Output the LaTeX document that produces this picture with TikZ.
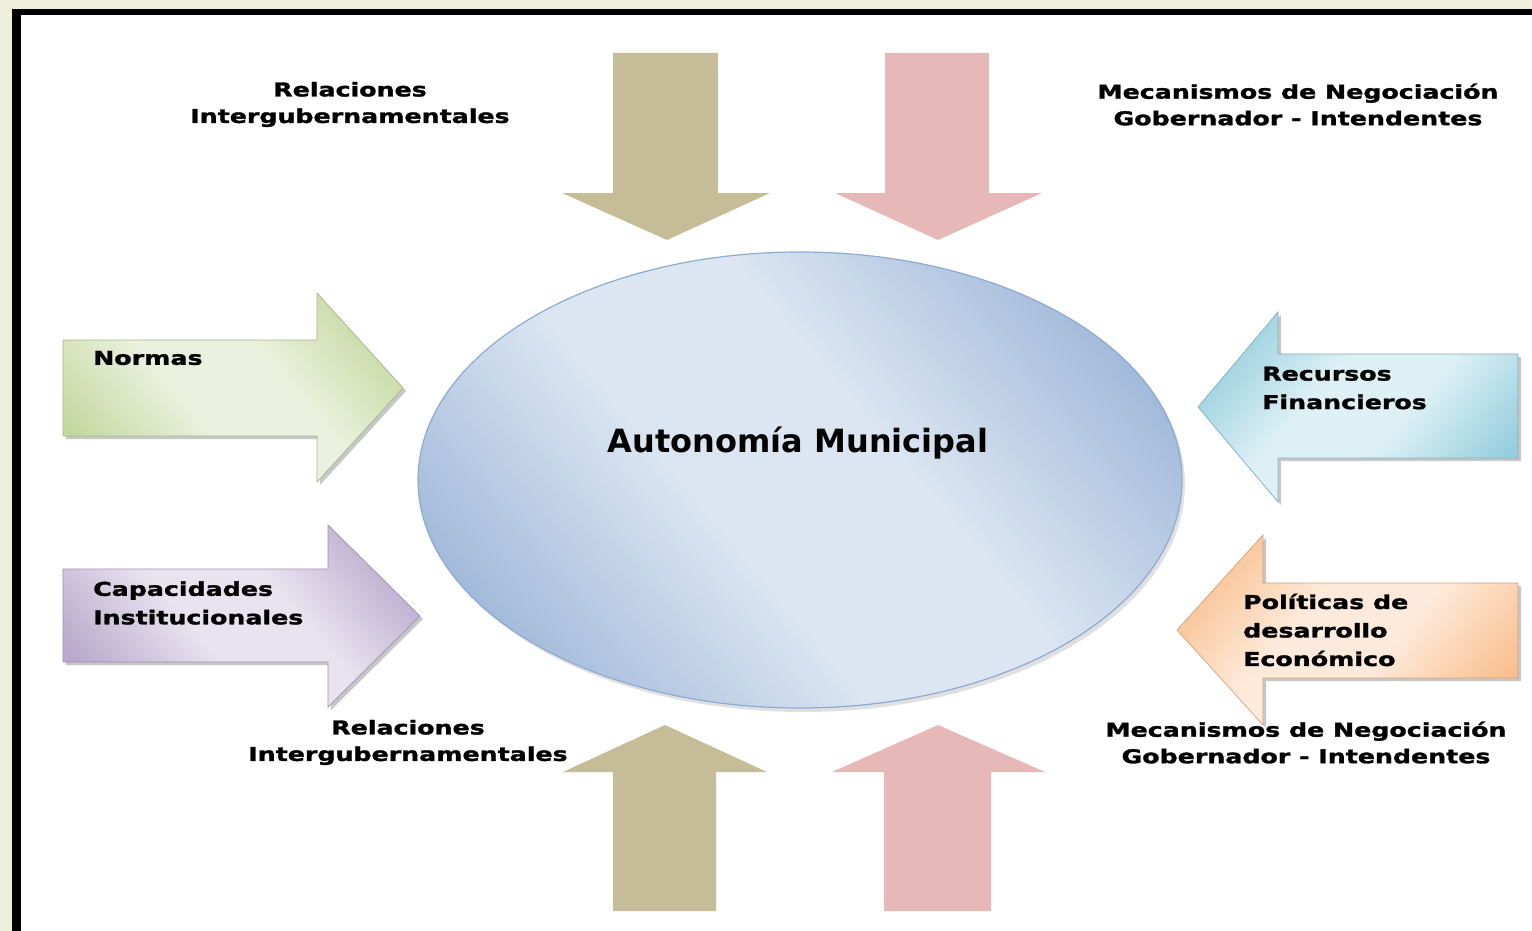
\documentclass[tikz,border=0pt]{standalone}
\usepackage{fontspec}
\newfontfamily\lblfont{DejaVu Sans}[FakeStretch=1.33,FakeBold=1.6]
\newfontfamily\ctrfont{DejaVu Sans}
\definecolor{bgcream}{HTML}{EDEFDC}
\definecolor{tanA}{HTML}{C4BD97}
\definecolor{pinkA}{HTML}{E6B9B8}
\definecolor{ellDark}{HTML}{A3BBDB}
\definecolor{ellLight}{HTML}{DCE6F2}
\definecolor{ellLine}{HTML}{8EAAD2}
\definecolor{grnDark}{HTML}{C5D8A0}
\definecolor{grnLight}{HTML}{EBF1DE}
\definecolor{purDark}{HTML}{B9A9CC}
\definecolor{purLight}{HTML}{E8E3EF}
\definecolor{bluDark}{HTML}{95CEDD}
\definecolor{bluLight}{HTML}{DDF0F5}
\definecolor{oraDark}{HTML}{F9BF8E}
\definecolor{oraLight}{HTML}{FDEADB}
\pgfdeclareverticalshading{ellgrad}{100bp}{color(0bp)=(ellDark); color(24bp)=(ellDark); color(43bp)=(ellLight); color(57bp)=(ellLight); color(76bp)=(ellDark); color(100bp)=(ellDark)}
\pgfdeclareverticalshading{grngrad}{100bp}{color(0bp)=(grnDark); color(22bp)=(grnDark); color(42bp)=(grnLight); color(58bp)=(grnLight); color(78bp)=(grnDark); color(100bp)=(grnDark)}
\pgfdeclareverticalshading{purgrad}{100bp}{color(0bp)=(purDark); color(22bp)=(purDark); color(42bp)=(purLight); color(58bp)=(purLight); color(78bp)=(purDark); color(100bp)=(purDark)}
\pgfdeclareverticalshading{blugrad}{100bp}{color(0bp)=(bluDark); color(22bp)=(bluDark); color(42bp)=(bluLight); color(58bp)=(bluLight); color(78bp)=(bluDark); color(100bp)=(bluDark)}
\pgfdeclareverticalshading{oragrad}{100bp}{color(0bp)=(oraDark); color(22bp)=(oraDark); color(42bp)=(oraLight); color(58bp)=(oraLight); color(78bp)=(oraDark); color(100bp)=(oraDark)}
\tikzset{
  gradarrow/.style n args={3}{shading=#2, shading angle=#3, draw=#1!85!black, line width=0.7},
  shadowpath/.style={fill=black, opacity=0.22},
  lbl/.style={font=\lblfont\bfseries\fontsize{19}{26.5}\selectfont, inner sep=0pt, text=black},
  arrlbl/.style={font=\lblfont\bfseries\fontsize{19}{28.5}\selectfont, inner sep=0pt, text=black, align=left, anchor=west},
}
\begin{document}
\begin{tikzpicture}[x=1pt,y=-1pt]
\useasboundingbox (0,0) rectangle (1532,931);
\fill[bgcream] (0,0) rectangle (1532,931);
\fill[white] (16,12) rectangle (1532,931);
\fill[black] (12,9) rectangle (20.5,931);
\fill[black] (12,9) rectangle (1532,15.5);

% top arrows (flat)
\fill[tanA] (613,53) -- (718,53) -- (718,193) -- (770,193) -- (667,240) -- (562,193) -- (613,193) -- cycle;
\fill[pinkA] (885,53) -- (989,53) -- (989,193) -- (1042,193) -- (938,240) -- (835,193) -- (885,193) -- cycle;
% bottom arrows (flat)
\fill[tanA] (613,911) -- (716,911) -- (716,772) -- (767,772) -- (665,725) -- (563,772) -- (613,772) -- cycle;
\fill[pinkA] (884,911) -- (991,911) -- (991,772) -- (1045,772) -- (938,725) -- (832,772) -- (884,772) -- cycle;

% ellipse
\fill[black, opacity=0.12] (803,484) ellipse [x radius=382, y radius=228];
\path[shading=ellgrad, shading angle=-50, draw=ellLine, line width=1.2]
  (800,480) ellipse [x radius=382, y radius=228];

% left arrows
\path[shadowpath, shift={(3,3)}] (63,340) -- (317,340) -- (317,293) -- (403,388) -- (317,482) -- (317,436) -- (63,436) -- cycle;
\path[gradarrow={grnDark}{grngrad}{-50}] (63,340) -- (317,340) -- (317,293) -- (403,388) -- (317,482) -- (317,436) -- (63,436) -- cycle;
\path[shadowpath, shift={(3,3)}] (63,569) -- (328,569) -- (328,525) -- (420,616) -- (328,707) -- (328,662) -- (63,662) -- cycle;
\path[gradarrow={purDark}{purgrad}{-50}] (63,569) -- (328,569) -- (328,525) -- (420,616) -- (328,707) -- (328,662) -- (63,662) -- cycle;
% right arrows
\path[shadowpath, shift={(3,3)}] (1518,354) -- (1278,354) -- (1278,312) -- (1198,407) -- (1278,502) -- (1278,458) -- (1518,458) -- cycle;
\path[gradarrow={bluDark}{blugrad}{50}] (1518,354) -- (1278,354) -- (1278,312) -- (1198,407) -- (1278,502) -- (1278,458) -- (1518,458) -- cycle;
\path[shadowpath, shift={(3,3)}] (1518,583) -- (1263,583) -- (1263,535) -- (1177,630) -- (1263,725) -- (1263,678) -- (1518,678) -- cycle;
\path[gradarrow={oraDark}{oragrad}{50}] (1518,583) -- (1263,583) -- (1263,535) -- (1177,630) -- (1263,725) -- (1263,678) -- (1518,678) -- cycle;

% texts
\node[font=\ctrfont\bfseries\fontsize{32}{38}\selectfont, inner sep=0pt] (autonomia) at (798,443) {Autonomía Municipal};
\node[lbl, align=center] (relTop) at (350,104.5) {Relaciones\\Intergubernamentales};
\node[lbl, align=center] (mecTop) at (1298,104.5) {Mecanismos de Negociación\\Gobernador - Intendentes};
\node[lbl, align=center] (relBot) at (408,742.5) {Relaciones\\Intergubernamentales};
\node[lbl, align=center] (mecBot) at (1306,742.5) {Mecanismos de Negociación\\Gobernador - Intendentes};
\node[arrlbl] (normas) at (93,358) {Normas};
\node[arrlbl] (capac) at (93,603) {Capacidades\\Institucionales};
\node[arrlbl] (recur) at (1262,388) {Recursos\\Financieros};
\node[arrlbl] (polit) at (1243,630) {Políticas de\\desarrollo\\Económico};
\end{tikzpicture}
\end{document}
